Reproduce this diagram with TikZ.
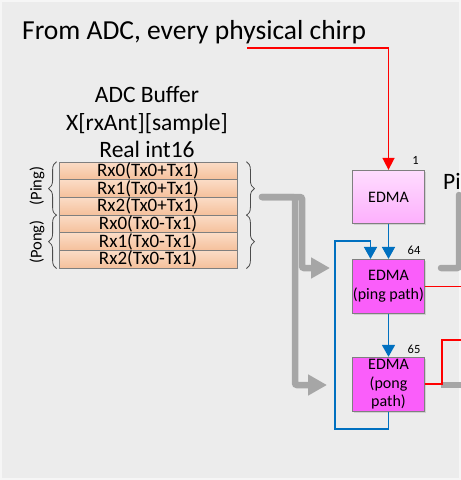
\documentclass[tikz,border=0pt]{standalone}
\usepackage{fontspec}
\setmainfont{Carlito}
\usetikzlibrary{arrows.meta,decorations.pathreplacing,shadows}

\definecolor{bgc}{HTML}{ECECEC}
\definecolor{peachtop}{HTML}{FBDCC6}
\definecolor{peachbot}{HTML}{F5C09B}
\definecolor{pinklight}{HTML}{FDCEFD}
\definecolor{pinkdeep}{HTML}{FA5EFA}
\definecolor{boxline}{HTML}{7F7F7F}
\definecolor{grayarrow}{HTML}{A6A6A6}
\definecolor{bluearrow}{HTML}{0070C0}

\begin{document}
\begin{tikzpicture}[x=1pt,y=-1pt,
  row/.style={draw=boxline, line width=0.8pt, top color=peachtop, bottom color=peachbot,
    minimum width=178pt, minimum height=17.7pt, inner sep=0pt,
    text height=11pt, text depth=0pt, font=\fontsize{19}{19}\selectfont},
  edma/.style={draw=boxline, line width=0.8pt, minimum width=71.6pt, minimum height=53.5pt,
    inner sep=0pt, align=center, font=\fontsize{16}{18.5}\selectfont,
    drop shadow={opacity=0.25, shadow xshift=1.5pt, shadow yshift=-1.5pt}},
  gry/.style={color=grayarrow, line width=6.5pt, rounded corners=2pt, line cap=round},
  blu/.style={color=bluearrow, line width=1.8pt},
  brc/.style={draw=black!70, line width=0.8pt, decorate, decoration={brace, amplitude=8pt}}]

\useasboundingbox (0,0) rectangle (461,480);
\fill[bgc] (0,0) rectangle (461,480);
\draw[color=white!55!bgc, line width=2pt] (1,1) rectangle (460,479);

\node[anchor=base west, inner sep=0pt, font=\fontsize{27.5}{27.5}\selectfont] (title) at (22,39) {From ADC, every physical chirp};

\node[anchor=base, inner sep=0pt, font=\fontsize{23.5}{23.5}\selectfont] (buf1) at (147,102) {ADC Buffer};
\node[anchor=base, inner sep=0pt, font=\fontsize{23.5}{23.5}\selectfont] (buf2) at (147,130) {X[rxAnt][sample]};
\node[anchor=base, inner sep=0pt, font=\fontsize{23.5}{23.5}\selectfont] (buf3) at (147,157.5) {Real int16};

% buffer rows
\node[row] (r1) at (148,170.85) {Rx0(Tx0+Tx1)};
\node[row] (r2) at (148,188.55) {Rx1(Tx0+Tx1)};
\node[row] (r3) at (148,206.25) {Rx2(Tx0+Tx1)};
\node[row] (r4) at (148,223.95) {Rx0(Tx0-Tx1)};
\node[row] (r5) at (148,241.65) {Rx1(Tx0-Tx1)};
\node[row] (r6) at (148,259.35) {Rx2(Tx0-Tx1)};

\draw[brc] ([xshift=-2pt]r3.south west) -- ([xshift=-2pt]r1.north west);
\draw[brc] ([xshift=-2pt]r6.south west) -- ([xshift=-2pt]r4.north west);
\draw[brc] ([xshift=9pt]r1.north east) -- ([xshift=9pt]r3.south east);
\draw[brc] ([xshift=9pt]r4.north east) -- ([xshift=9pt]r6.south east);

\node[rotate=90, inner sep=0pt, font=\fontsize{16.5}{16.5}\selectfont] (ping) at (37,186) {(Ping)};
\node[rotate=90, inner sep=0pt, font=\fontsize{16.5}{16.5}\selectfont] (pong) at (37,242) {(Pong)};

% EDMA blocks
\node[edma, top color=pinklight!70!white, bottom color=pinklight!85!magenta] (edmaA) at (388.5,197) {EDMA};
\node[edma, fill=pinkdeep, minimum height=54pt] (edmaping) at (388.5,286.3) {EDMA\\(ping path)};
\node[edma, fill=pinkdeep, minimum height=54pt] (edmapong) at (388.5,384.2) {EDMA\\(pong\\path)};

\node[font=\fontsize{12.5}{12.5}\selectfont, inner sep=0pt] (n1) at (415.5,160.5) {1};
\node[font=\fontsize{12.5}{12.5}\selectfont, inner sep=0pt] (n64) at (414,250.5) {64};
\node[font=\fontsize{12.5}{12.5}\selectfont, inner sep=0pt] (n65) at (414,349) {65};

% gray data paths
\coordinate (split) at (262,197);
\coordinate (tipping) at (330,268);
\coordinate (tippong) at (327,385);
\draw[gry, -{Triangle[length=19pt,width=20pt]}] (split) -- (302,197) -- (302,268) -- (tipping);
\draw[gry, -{Triangle[length=19pt,width=20pt]}] (split) -- (295,197) -- (295,385) -- (tippong);

\draw[gry] (459,195) -- (459,268) -- (441,268);
\draw[gry, line cap=butt] (441,385) -- (461,385);
\node[anchor=base west, inner sep=0pt, font=\fontsize{23.5}{23.5}\selectfont] (pi) at (443,189) {Pi};

% red lines
\coordinate (chirp) at (247,48);
\draw[color=red, line width=1.6pt, -{Triangle[length=12pt,width=12pt]}] (chirp) -| (edmaA.north);
\draw[color=red, line width=1.6pt] (edmaping.east) -- (461,286.3);
\draw[color=red, line width=1.6pt] (edmapong.east) -- (442,384.2) |- (461,340);

% blue ping-pong loop
\draw[blu, -{Triangle[length=12pt,width=13pt]}] (edmaA.south) -- (edmaping.north);
\draw[blu, -{Triangle[length=12pt,width=13pt]}] (edmaping.south) -- (edmapong.north);
\draw[blu, -{Triangle[length=12pt,width=13pt]}] (edmapong.south) -- ++(0,17) -| (335,241) -| ([xshift=-18pt]edmaping.north);

\end{tikzpicture}
\end{document}
